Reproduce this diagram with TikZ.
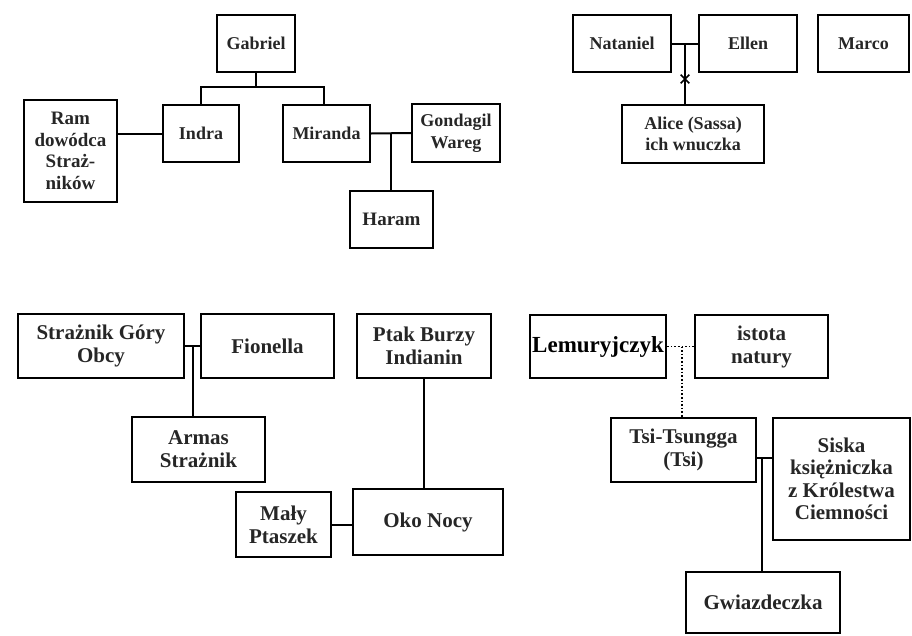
\documentclass[tikz,border=0pt]{standalone}
\usepackage{fontspec}
\setmainfont{Liberation Serif}
\usetikzlibrary{shapes.misc}
\begin{document}
\begin{tikzpicture}[x=1pt,y=-1pt,
  box/.style={draw, line width=2.3pt, rectangle, inner sep=0pt, align=center,
    font=\bfseries\fontsize{18}{21.5}\selectfont, text=black!85},
  boxb/.style={box, font=\bfseries\fontsize{21}{23}\selectfont},
  link/.style={line width=2pt},
  dotlink/.style={line width=1.6pt, dotted}]
\useasboundingbox (0,0) rectangle (912,635);
% top left family
\node[box, minimum width=78pt, minimum height=57pt] (gab) at (256,43.5) {Gabriel};
\node[box, minimum width=76pt, minimum height=57pt] (indra) at (201,133.5) {Indra};
\node[box, minimum width=87pt, minimum height=57pt] (mir) at (326.5,133.5) {Miranda};
\node[box, minimum width=93pt, minimum height=102pt, font=\bfseries\fontsize{19}{21.5}\selectfont] (ram) at (70.5,151) {Ram\\dowódca\\Straż-\\ników};
\node[box, minimum width=88pt, minimum height=58pt] (gon) at (456,133) {Gondagil\\Wareg};
\node[box, minimum width=83pt, minimum height=57pt, font=\bfseries\fontsize{19}{21.5}\selectfont] (har) at (391.5,219.5) {Haram};
\coordinate (gj) at (256,87);
\coordinate (mg) at (391,133);
\draw[link] (gab.south) -- (gj);
\draw[link] (indra.north) |- (gj) -| ([xshift=-3pt]mir.north);
\draw[link] (ram.east |- indra.west) -- (indra.west);
\draw[link] (mir.east) -- (gon.west);
\draw[link] (mg) -- (mg |- har.north);
% top right
\begin{scope}[every node/.append style={font=\bfseries\fontsize{19.5}{20}\selectfont}]
\node[box, minimum width=98pt, minimum height=57pt] (nat) at (622,43.5) {Nataniel};
\node[box, minimum width=98pt, minimum height=57pt] (ell) at (748,43.5) {Ellen};
\node[box, minimum width=91pt, minimum height=57pt] (mar) at (863.5,43.5) {Marco};
\node[box, minimum width=142pt, minimum height=58pt] (ali) at (693,134) {Alice (Sassa)\\ich wnuczka};
\end{scope}
\coordinate (ne) at (685,43.5);
\draw[link] (nat.east) -- (ell.west);
\draw[link] (ne) -- (ne |- ali.north);
\node[cross out, draw, line width=1.6pt, minimum size=7pt, inner sep=0pt] (xm) at (685,79) {};
% bottom left
\node[boxb, minimum width=166pt, minimum height=64pt] (str) at (101,346) {Strażnik Góry\\Obcy};
\node[boxb, minimum width=133pt, minimum height=64pt] (fio) at (267.5,346) {Fionella};
\node[boxb, minimum width=134pt, minimum height=64pt] (pta) at (424,346) {Ptak Burzy\\Indianin};
\node[boxb, minimum width=133pt, minimum height=65pt] (arm) at (198.5,449.5) {Armas\\Strażnik};
\node[boxb, minimum width=95pt, minimum height=65pt] (mal) at (283.5,524.5) {Mały\\Ptaszek};
\node[boxb, minimum width=150pt, minimum height=66pt] (oko) at (428,522) {Oko Nocy};
\coordinate (sf) at (193,346);
\draw[link] (str.east) -- (fio.west);
\draw[link] (sf) -- (sf |- arm.north);
\draw[link] (pta.south) -- (pta.south |- oko.north);
\draw[link] (mal.east) -- (mal.east -| oko.west);
% bottom right
\node[boxb, minimum width=136pt, minimum height=63pt, font=\bfseries\fontsize{23}{24}\selectfont, text=black] (lem) at (598,346.5) {Lemuryjczyk};
\node[boxb, minimum width=133pt, minimum height=63pt] (ist) at (761.5,346.5) {istota\\natury};
\node[boxb, minimum width=145pt, minimum height=64pt] (tsi) at (683.5,450) {Tsi-Tsungga\\(Tsi)};
\node[boxb, minimum width=137pt, minimum height=122pt, font=\bfseries\fontsize{21}{22.5}\selectfont] (sis) at (841.5,479) {Siska\\księżniczka\\z Królestwa\\Ciemności};
\node[boxb, minimum width=154pt, minimum height=61pt] (gwi) at (763,602.5) {Gwiazdeczka};
\coordinate (li) at (682,346.5);
\coordinate (ts) at (762,458);
\draw[dotlink] (lem.east) -- (ist.west);
\draw[dotlink] (li) -- (li |- tsi.north);
\draw[link] (tsi.east |- ts) -- (sis.west |- ts);
\draw[link] (ts) -- (ts |- gwi.north);
\end{tikzpicture}
\end{document}
